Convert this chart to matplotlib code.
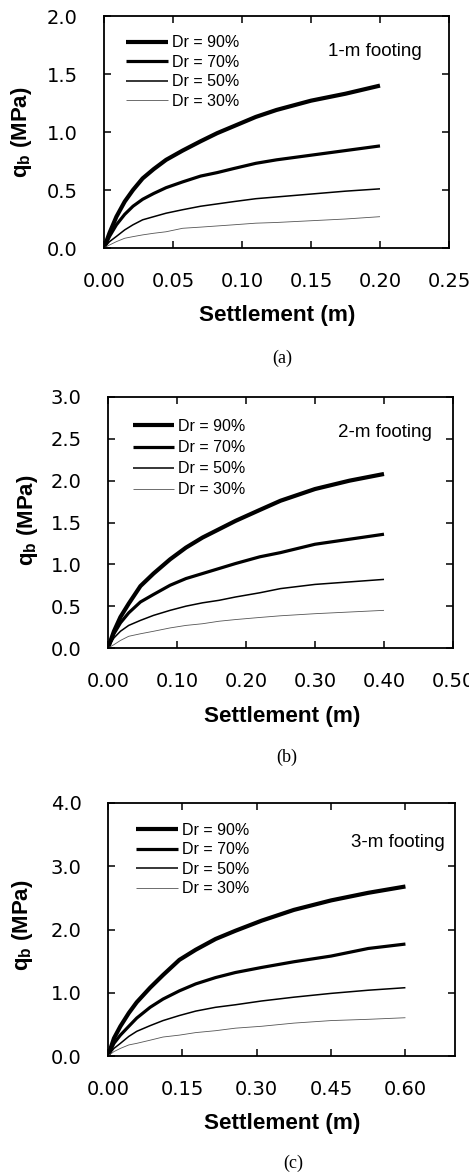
import matplotlib
matplotlib.use("Agg")
import matplotlib.pyplot as plt
from matplotlib.ticker import FormatStrFormatter, MultipleLocator

plt.rcParams['mathtext.fontset'] = 'custom'
plt.rcParams['mathtext.bf'] = 'Liberation Sans:bold'
plt.rcParams['mathtext.rm'] = 'Liberation Sans'

labels = ["Dr = 90%", "Dr = 70%", "Dr = 50%", "Dr = 30%"]

# Panel (a): 1-m footing
xa = [0.0, 0.004, 0.009, 0.015, 0.021, 0.028, 0.036, 0.045, 0.057, 0.070, 0.082, 0.094,
      0.110, 0.125, 0.150, 0.175, 0.200]
a90 = [0.0, 0.13, 0.27, 0.40, 0.50, 0.60, 0.68, 0.76, 0.84, 0.92, 0.99, 1.05,
       1.13, 1.19, 1.27, 1.33, 1.40]
a70 = [0.0, 0.10, 0.20, 0.29, 0.36, 0.42, 0.47, 0.52, 0.57, 0.62, 0.65, 0.685,
       0.73, 0.76, 0.80, 0.84, 0.88]
a50 = [0.0, 0.055, 0.10, 0.156, 0.20, 0.243, 0.27, 0.30, 0.33, 0.36, 0.38, 0.40,
       0.425, 0.44, 0.465, 0.49, 0.51]
a30 = [0.0, 0.026, 0.055, 0.084, 0.098, 0.113, 0.127, 0.14, 0.17, 0.18, 0.19, 0.20,
       0.214, 0.22, 0.235, 0.25, 0.27]

# Panel (b): 2-m footing
xb = [0.0, 0.0086, 0.018, 0.030, 0.047, 0.066, 0.090, 0.113, 0.137, 0.161, 0.185,
      0.220, 0.250, 0.300, 0.350, 0.400]
b90 = [0.0, 0.20, 0.37, 0.53, 0.74, 0.89, 1.06, 1.20, 1.32, 1.42, 1.52,
       1.65, 1.76, 1.90, 2.00, 2.08]
b70 = [0.0, 0.17, 0.30, 0.42, 0.55, 0.64, 0.75, 0.83, 0.89, 0.95, 1.01,
       1.09, 1.14, 1.24, 1.30, 1.36]
b50 = [0.0, 0.12, 0.20, 0.27, 0.33, 0.39, 0.45, 0.50, 0.54, 0.57, 0.61,
       0.66, 0.71, 0.76, 0.79, 0.82]
b30 = [0.0, 0.04, 0.09, 0.14, 0.17, 0.20, 0.24, 0.27, 0.29, 0.32, 0.34,
       0.365, 0.385, 0.41, 0.43, 0.45]

# Panel (c): 3-m footing
xc = [0.0, 0.012, 0.025, 0.042, 0.058, 0.085, 0.111, 0.144, 0.177, 0.217, 0.257,
      0.310, 0.375, 0.450, 0.525, 0.600]
c90 = [0.0, 0.28, 0.47, 0.68, 0.85, 1.08, 1.28, 1.52, 1.68, 1.85, 1.98,
       2.14, 2.31, 2.46, 2.58, 2.68]
c70 = [0.0, 0.20, 0.33, 0.47, 0.60, 0.77, 0.90, 1.03, 1.14, 1.24, 1.32,
       1.40, 1.49, 1.58, 1.70, 1.77]
c50 = [0.0, 0.12, 0.20, 0.31, 0.39, 0.48, 0.56, 0.64, 0.71, 0.77, 0.81,
       0.87, 0.93, 0.99, 1.04, 1.08]
c30 = [0.0, 0.07, 0.12, 0.175, 0.20, 0.25, 0.30, 0.33, 0.37, 0.40, 0.44,
       0.47, 0.52, 0.56, 0.58, 0.605]

W, H = 469, 1175
fig = plt.figure(figsize=(W / 100, H / 100), dpi=100)

widths = [3.0, 2.3, 1.1, 0.6]
colors = ["black", "black", "black", "#555555"]

panels = [
    dict(box=(104, 449, 16, 248), x=xa, ys=[a90, a70, a50, a30], xlim=(0, 0.25),
         xt=[0.0, 0.05, 0.10, 0.15, 0.20, 0.25], ylim=(0, 2.0), ystep=0.5,
         title="1-m footing", tpos=(0.922, 0.846), leg=(0.064, 0.916), lsp=0.28,
         xl=(0.503, -0.289), yl=(-0.238, 0.5), cap="(a)", cpos=(282, 358)),
    dict(box=(108, 453, 397, 648), x=xb, ys=[b90, b70, b50, b30], xlim=(0, 0.5),
         xt=[0.0, 0.10, 0.20, 0.30, 0.40, 0.50], ylim=(0, 3.0), ystep=0.5,
         title="2-m footing", tpos=(0.939, 0.857), leg=(0.072, 0.912), lsp=0.38,
         xl=(0.504, -0.274), yl=(-0.233, 0.507), cap="(b)", cpos=(287, 757)),
    dict(box=(108, 455, 803, 1056), x=xc, ys=[c90, c70, c50, c30], xlim=(0, 0.7),
         xt=[0.0, 0.15, 0.30, 0.45, 0.60], ylim=(0, 4.0), ystep=1.0,
         title="3-m footing", tpos=(0.971, 0.842), leg=(0.081, 0.921), lsp=0.28,
         xl=(0.503, -0.265), yl=(-0.245, 0.515), cap="(c)", cpos=(293, 1163)),
]

for p in panels:
    l, r, t, b = p['box']
    ax = fig.add_axes([l / W, 1 - b / H, (r - l) / W, (b - t) / H])
    for y, lw, c, lab in zip(p['ys'], widths, colors, labels):
        ax.plot(p['x'], y, color=c, lw=lw, label=lab, solid_capstyle='butt',
                solid_joinstyle='round')
    ax.set_xlim(*p['xlim'])
    ax.set_ylim(*p['ylim'])
    ax.set_xticks(p['xt'])
    ax.yaxis.set_major_locator(MultipleLocator(p['ystep']))
    ax.xaxis.set_major_formatter(FormatStrFormatter('%.2f'))
    ax.yaxis.set_major_formatter(FormatStrFormatter('%.1f'))
    ax.tick_params(direction='in', length=5, width=1.1, top=True, right=True,
                   labelsize=14, pad=17)
    ax.tick_params(axis='y', pad=19)
    for lab in ax.get_xticklabels() + ax.get_yticklabels():
        lab.set_family('DejaVu Sans')
    for s in ax.spines.values():
        s.set_linewidth(1.3)
    ax.set_xlabel("Settlement (m)", fontsize=16.2, fontweight='bold', family='Liberation Sans')
    ax.xaxis.set_label_coords(*p['xl'])
    ax.xaxis.label.set_va('center')
    ax.set_ylabel(r'$\mathbf{q}_{\mathbf{b}}$ (MPa)', fontsize=16, fontweight='bold',
                  family='Liberation Sans')
    ax.yaxis.set_label_coords(*p['yl'])
    ax.yaxis.label.set_va('center')
    ax.text(p['tpos'][0], p['tpos'][1], p['title'], transform=ax.transAxes,
            ha='right', va='center', fontsize=13.5, family='Liberation Sans')
    ax.legend(loc='upper left', bbox_to_anchor=p['leg'], frameon=False,
              prop=dict(family='Liberation Sans', size=11.5), handlelength=2.6,
              handletextpad=0.25, labelspacing=p['lsp'], borderpad=0, borderaxespad=0)
    fig.text(p['cpos'][0] / W, 1 - p['cpos'][1] / H, p['cap'], ha='center', va='center',
             fontsize=13, family='Liberation Serif')

fig.savefig("out.png", dpi=100)
